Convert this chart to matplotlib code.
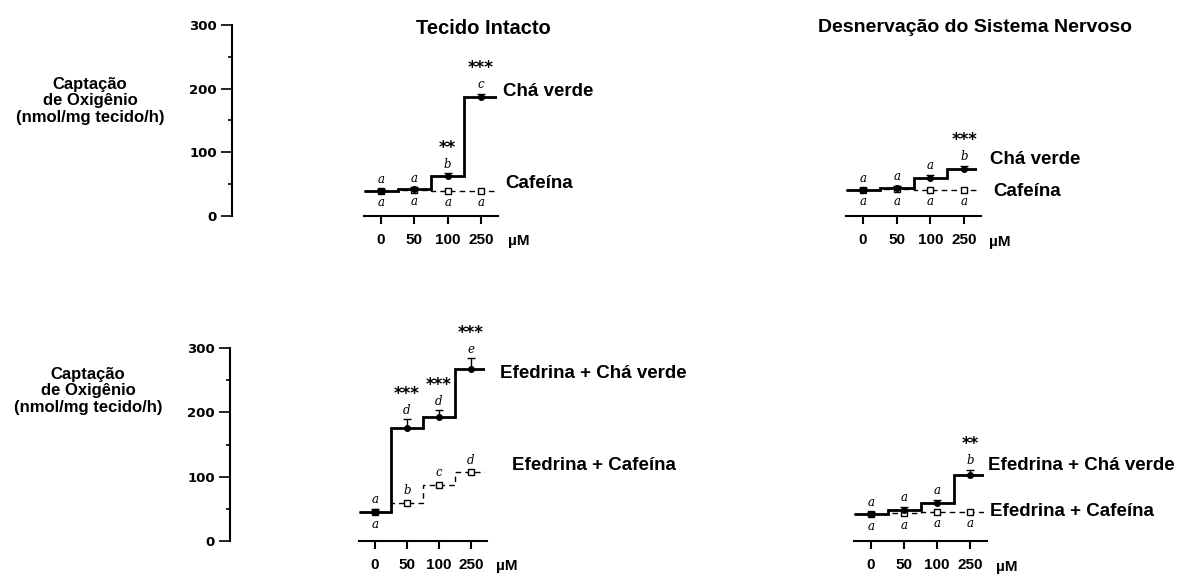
import numpy as np
import matplotlib
matplotlib.use("Agg")
import matplotlib.pyplot as plt

# doses (uM)
doses = ["0", "50", "100", "250"]

# top row, intact tissue
intact_green = [40, 42, 63, 187]
intact_green_err = [3, 3, 4, 5]
intact_caf = [40, 41, 40, 40]
intact_green_letters = ["a", "a", "b", "c"]
intact_caf_letters = ["a", "a", "a", "a"]
intact_green_stars = ["", "", "**", "***"]

# top row, denervated
denerv_green = [41, 44, 60, 74]
denerv_green_err = [3, 3, 5, 5]
denerv_caf = [41, 42, 41, 41]
denerv_green_letters = ["a", "a", "a", "b"]
denerv_caf_letters = ["a", "a", "a", "a"]
denerv_green_stars = ["", "", "", "***"]

# bottom row, ephedrine, intact
eph_intact_green = [45, 176, 193, 268]
eph_intact_green_err = [5, 13, 10, 16]
eph_intact_caf = [45, 59, 87, 107]
eph_intact_green_letters = ["a", "d", "d", "e"]
eph_intact_caf_letters = ["a", "b", "c", "d"]
eph_intact_green_stars = ["", "***", "***", "***"]

# bottom row, ephedrine, denervated
eph_denerv_green = [42, 48, 59, 104]
eph_denerv_green_err = [4, 5, 6, 8]
eph_denerv_caf = [42, 44, 46, 46]
eph_denerv_green_letters = ["a", "a", "a", "b"]
eph_denerv_caf_letters = ["a", "a", "a", "a"]
eph_denerv_green_stars = ["", "", "", "**"]

W, H = 1197, 578
plt.rcParams['font.family'] = ['Liberation Sans', 'DejaVu Sans']

fig = plt.figure(figsize=(W / 100, H / 100), dpi=100)


def px_axes(x0, x1, ytop, ybot):
    return fig.add_axes([x0 / W, 1 - ybot / H, (x1 - x0) / W, (ybot - ytop) / H])


def panel(ax, xlim, green, green_err, caf, g_letters, c_letters, stars,
          caf_letters_above=False, show_y=False):
    x = np.arange(len(doses))
    edges = np.arange(-0.5, len(doses) + 0.5)
    ax.set_xlim(*xlim)
    ax.set_ylim(0, 300)
    ax.stairs(caf, edges, baseline=None, color='black', lw=1.0, ls=(0, (4, 3)))
    ax.stairs(green, edges, baseline=None, color='black', lw=2.0)
    ax.errorbar(x, green, yerr=[np.zeros(len(x)), green_err], fmt='none',
                ecolor='black', elinewidth=1, capsize=3)
    ax.plot(x, caf, 's', ms=4, mfc='white', mec='black', mew=1)
    ax.plot(x, green, 'o', ms=4, color='black')
    for i in range(len(x)):
        top = green[i] + green_err[i]
        ax.annotate(g_letters[i], (x[i], top), xytext=(0, 2), textcoords='offset points',
                    ha='center', va='bottom', fontsize=8.5, style='italic', family='DejaVu Serif')
        if stars[i]:
            ax.annotate(stars[i], (x[i], top), xytext=(0, 12), textcoords='offset points',
                        ha='center', va='bottom', fontsize=12, fontweight='bold',
                        family='DejaVu Sans')
        if caf_letters_above and i > 0:
            ax.annotate(c_letters[i], (x[i], caf[i]), xytext=(0, 4), textcoords='offset points',
                        ha='center', va='bottom', fontsize=8.5, style='italic', family='DejaVu Serif')
        else:
            ax.annotate(c_letters[i], (x[i], caf[i]), xytext=(0, -4), textcoords='offset points',
                        ha='center', va='top', fontsize=8.5, style='italic', family='DejaVu Serif')

    for s in ['top', 'right']:
        ax.spines[s].set_visible(False)
    ax.spines['bottom'].set_bounds(-0.5, 3.5)
    ax.spines['bottom'].set_linewidth(1.5)
    ax.set_xticks(x)
    ax.set_xticklabels(doses, fontsize=11, fontweight='bold')
    ax.tick_params(axis='x', direction='out', length=6, width=1.5, pad=6)
    if show_y:
        ax.spines['left'].set_linewidth(1.5)
        ax.set_yticks([0, 100, 200, 300])
        ax.set_yticks([50, 150, 250], minor=True)
        ax.set_yticklabels(["0", "100", "200", "300"], fontsize=9.5, fontweight='bold',
                           family='DejaVu Sans')
        ax.tick_params(axis='y', which='major', length=8, width=1.2, pad=3)
        ax.tick_params(axis='y', which='minor', length=3, width=1.2)
    else:
        ax.spines['left'].set_visible(False)
        ax.set_yticks([])
    ax.patch.set_visible(False)


# top-left
ax1 = px_axes(232, 497, 25, 216)
panel(ax1, (-4.47, 3.48), intact_green, intact_green_err, intact_caf,
      intact_green_letters, intact_caf_letters, intact_green_stars, show_y=True)
# top-right
ax2 = px_axes(845, 977, 25, 216)
panel(ax2, (-0.53, 3.38), denerv_green, denerv_green_err, denerv_caf,
      denerv_green_letters, denerv_caf_letters, denerv_green_stars)
# bottom-left
ax3 = px_axes(230, 485, 348, 541)
panel(ax3, (-4.53, 3.44), eph_intact_green, eph_intact_green_err, eph_intact_caf,
      eph_intact_green_letters, eph_intact_caf_letters, eph_intact_green_stars,
      caf_letters_above=True, show_y=True)
# bottom-right
ax4 = px_axes(853, 984, 350, 541)
panel(ax4, (-0.545, 3.42), eph_denerv_green, eph_denerv_green_err, eph_denerv_caf,
      eph_denerv_green_letters, eph_denerv_caf_letters, eph_denerv_green_stars)


def ftext(x, y, s, **kw):
    fig.text(x / W, 1 - y / H, s, **kw)


ftext(483, 28, "Tecido Intacto", ha='center', va='center', fontsize=14.5, fontweight='bold')
ftext(975, 28, "Desnervação do Sistema Nervoso", ha='center', va='center',
      fontsize=14, fontweight='bold')

ylab = "Captação\nde Oxigênio\n(nmol/mg tecido/h)"
ftext(90, 101, ylab, ha='center', va='center', fontsize=12, fontweight='bold', linespacing=1.1)
ftext(88, 391, ylab, ha='center', va='center', fontsize=12, fontweight='bold', linespacing=1.1)

lab = dict(ha='left', va='center', fontsize=13.5, fontweight='bold')
ftext(503, 91, "Chá verde", **lab)
ftext(505, 183, "Cafeína", **lab)
ftext(990, 160, "Chá verde", **lab)
ftext(993, 191, "Cafeína", **lab)
ftext(500, 373, "Efedrina + Chá verde", **lab)
ftext(512, 465, "Efedrina + Cafeína", **lab)
ftext(988, 465, "Efedrina + Chá verde", **lab)
ftext(990, 512, "Efedrina + Cafeína", **lab)

unit = dict(ha='left', va='center', fontsize=11, fontweight='bold')
ftext(508, 241, "µM", **unit)
ftext(989, 242, "µM", **unit)
ftext(496, 566, "µM", **unit)
ftext(996, 567, "µM", **unit)

fig.savefig("out.png", dpi=100)
